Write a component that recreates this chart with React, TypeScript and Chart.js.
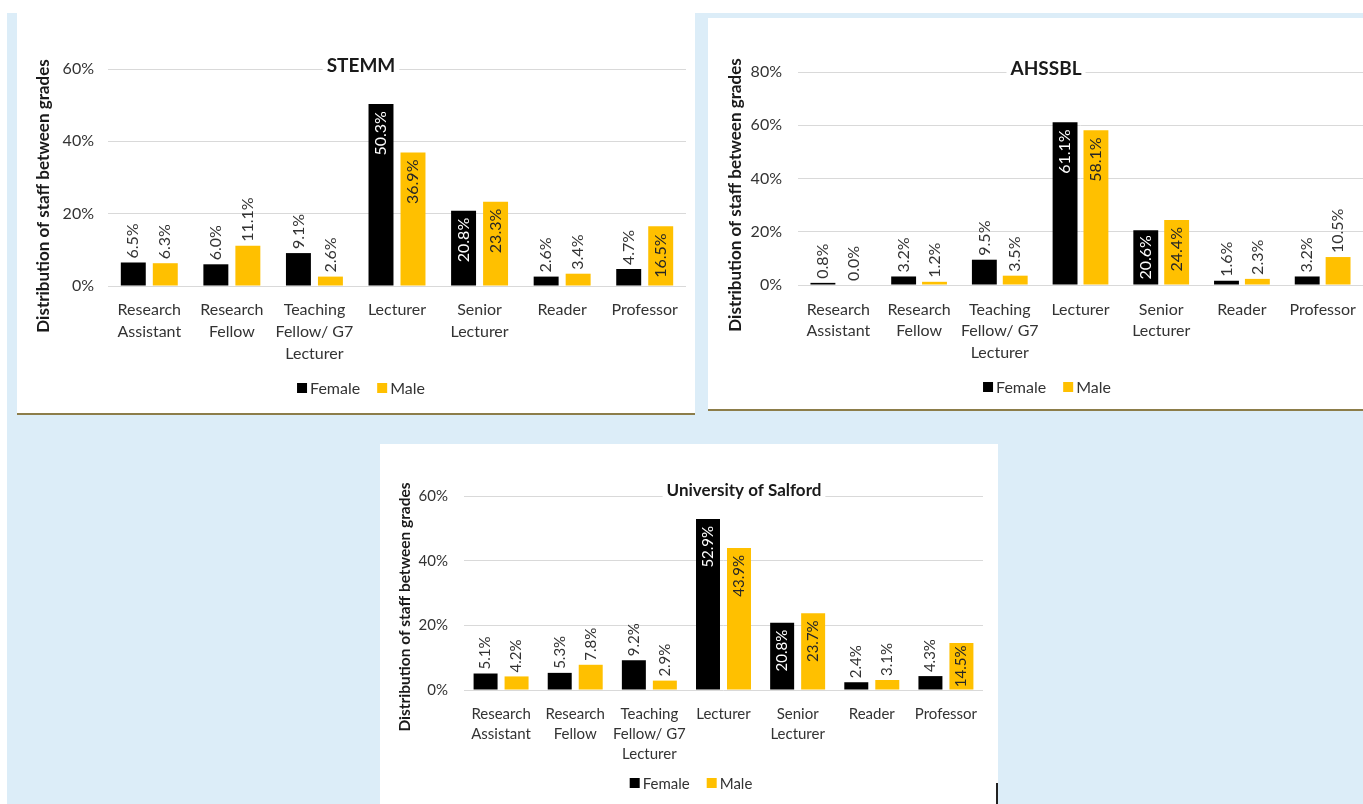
import React, { useEffect, useRef } from "react";
import { Chart, registerables } from "chart.js";

Chart.register(...registerables);

// ---- data ----
const grades: (string | string[])[] = [
  ["Research", "Assistant"],
  ["Research", "Fellow"],
  ["Teaching", "Fellow/ G7", "Lecturer"],
  "Lecturer",
  ["Senior", "Lecturer"],
  "Reader",
  "Professor",
];
const seriesNames = ["Female", "Male"];
const seriesColors = ["#000000", "#FFC000"];

const stemmFemale = [6.5, 6.0, 9.1, 50.3, 20.8, 2.6, 4.7];
const stemmMale = [6.3, 11.1, 2.6, 36.9, 23.3, 3.4, 16.5];

const ahssblFemale = [0.8, 3.2, 9.5, 61.1, 20.6, 1.6, 3.2];
const ahssblMale = [0.0, 1.2, 3.5, 58.1, 24.4, 2.3, 10.5];

const salfordFemale = [5.1, 5.3, 9.2, 52.9, 20.8, 2.4, 4.3];
const salfordMale = [4.2, 7.8, 2.9, 43.9, 23.7, 3.1, 14.5];

const stemmMax = 60;
const ahssblMax = 80;
const salfordMax = 60;
const tickStep = 20;

const yAxisTitle = "Distribution of staff between grades";

const FONT = "Lato, 'Open Sans', sans-serif";
const TEXT = "#333333";

type Spec = {
  title: string;
  female: number[];
  male: number[];
  max: number;
  box: { x: number; y: number; w: number; h: number };
  plot: { left: number; right: number; top: number; bottom: number };
  titleAt: [number, number];
  titleSize: number;
  yTitleAt: [number, number];
  yTitleSize: number;
  legendAt: [number, number];
  legendSize: number;
  tickSize: number;
  labelSize: number;
  lineHeight: number;
  valueSize: number;
  xPad: number;
  yPad: number;
  catPct: number;
  barPct: number;
  borderBottom: boolean;
};

const decorPlugin = {
  id: "panelDecor",
  afterDatasetsDraw(chart: any, _args: any, opts: any) {
    const ctx = chart.ctx as CanvasRenderingContext2D;
    chart.data.datasets.forEach((ds: any, di: number) => {
      const meta = chart.getDatasetMeta(di);
      meta.data.forEach((bar: any, i: number) => {
        const v = ds.data[i] as number;
        const text = v.toFixed(1) + "%";
        ctx.save();
        ctx.font = `${opts.valueSize}px ${FONT}`;
        const w = ctx.measureText(text).width;
        const h = bar.base - bar.y;
        const inside = h >= w + 4;
        const off = inside ? Math.max(0, Math.min(7, (h - w) / 2)) : 4;
        ctx.translate(bar.x, inside ? bar.y + off : bar.y - off);
        ctx.rotate(-Math.PI / 2);
        ctx.textAlign = inside ? "right" : "left";
        ctx.textBaseline = "middle";
        ctx.fillStyle = inside ? (di === 0 ? "#ffffff" : "#262626") : TEXT;
        ctx.fillText(text, 0, 0);
        ctx.restore();
      });
    });
  },
  afterDraw(chart: any, _args: any, opts: any) {
    const ctx = chart.ctx as CanvasRenderingContext2D;
    // chart title, sitting on the top gridline
    ctx.save();
    ctx.font = `bold ${opts.titleSize}px ${FONT}`;
    const tw = ctx.measureText(opts.title).width;
    ctx.fillStyle = "#ffffff";
    ctx.fillRect(opts.titleAt[0] - tw / 2 - 4, opts.titleAt[1] - opts.titleSize * 0.65, tw + 8, opts.titleSize * 1.3);
    ctx.fillStyle = "#1a1a1a";
    ctx.textAlign = "center";
    ctx.textBaseline = "middle";
    ctx.fillText(opts.title, opts.titleAt[0], opts.titleAt[1]);
    ctx.restore();

    // vertical axis title
    ctx.save();
    ctx.font = `bold ${opts.yTitleSize}px ${FONT}`;
    ctx.fillStyle = "#1a1a1a";
    ctx.translate(opts.yTitleAt[0], opts.yTitleAt[1]);
    ctx.rotate(-Math.PI / 2);
    ctx.textAlign = "center";
    ctx.textBaseline = "middle";
    ctx.fillText(yAxisTitle, 0, 0);
    ctx.restore();

    // legend
    ctx.save();
    ctx.font = `${opts.legendSize}px ${FONT}`;
    const box = 10;
    const gapBox = 3;
    const gapItem = 17;
    const items = chart.data.datasets.map((d: any) => ({
      label: d.label as string,
      color: d.backgroundColor as string,
      w: ctx.measureText(d.label).width,
    }));
    let total = 0;
    items.forEach((it: any, k: number) => {
      total += box + gapBox + it.w + (k < items.length - 1 ? gapItem : 0);
    });
    let x = opts.legendAt[0] - total / 2;
    const y = opts.legendAt[1];
    ctx.textBaseline = "middle";
    ctx.textAlign = "left";
    items.forEach((it: any) => {
      ctx.fillStyle = it.color;
      ctx.fillRect(x, y - box / 2, box, box);
      x += box + gapBox;
      ctx.fillStyle = TEXT;
      ctx.fillText(it.label, x, y + 1);
      x += it.w + gapItem;
    });
    ctx.restore();
  },
};

function PanelChart({ s }: { s: Spec }) {
  const ref = useRef<HTMLCanvasElement | null>(null);
  useEffect(() => {
    if (!ref.current) return;
    const { box, plot } = s;
    const chart = new Chart(ref.current, {
      type: "bar",
      data: {
        labels: grades,
        datasets: [
          {
            label: seriesNames[0],
            data: s.female,
            backgroundColor: seriesColors[0],
            borderWidth: 0,
            categoryPercentage: s.catPct,
            barPercentage: s.barPct,
          },
          {
            label: seriesNames[1],
            data: s.male,
            backgroundColor: seriesColors[1],
            borderWidth: 0,
            categoryPercentage: s.catPct,
            barPercentage: s.barPct,
          },
        ],
      },
      options: {
        responsive: false,
        maintainAspectRatio: false,
        animation: false,
        events: [],
        layout: {
          padding: {
            left: 0,
            right: box.x + box.w - plot.right,
            top: plot.top - box.y,
            bottom: 0,
          },
        },
        scales: {
          x: {
            grid: { display: false },
            border: { display: false },
            ticks: {
              autoSkip: false,
              maxRotation: 0,
              minRotation: 0,
              padding: s.xPad,
              color: TEXT,
              font: { family: FONT, size: s.labelSize, lineHeight: s.lineHeight / s.labelSize },
            },
            afterFit: (sc: any) => {
              sc.height = box.y + box.h - plot.bottom;
            },
          },
          y: {
            min: 0,
            max: s.max,
            ticks: {
              stepSize: tickStep,
              padding: s.yPad,
              color: TEXT,
              font: { family: FONT, size: s.tickSize },
              callback: (v: any) => `${v}%`,
            },
            grid: { color: "#d9d9d9", drawTicks: false, lineWidth: 1 },
            border: { display: false },
            afterFit: (sc: any) => {
              sc.width = plot.left - box.x;
            },
          },
        },
        plugins: {
          legend: { display: false },
          title: { display: false },
          tooltip: { enabled: false },
          panelDecor: {
            title: s.title,
            titleAt: [s.titleAt[0] - box.x, s.titleAt[1] - box.y],
            titleSize: s.titleSize,
            yTitleAt: [s.yTitleAt[0] - box.x, s.yTitleAt[1] - box.y],
            yTitleSize: s.yTitleSize,
            legendAt: [s.legendAt[0] - box.x, s.legendAt[1] - box.y],
            legendSize: s.legendSize,
            valueSize: s.valueSize,
          },
        } as any,
      },
      plugins: [decorPlugin],
    });
    return () => chart.destroy();
  }, [s]);

  return (
    <div
      style={{
        position: "absolute",
        left: s.box.x,
        top: s.box.y,
        width: s.box.w,
        height: s.box.h,
        background: "#ffffff",
      }}
    >
      <canvas ref={ref} width={s.box.w} height={s.box.h} style={{ display: "block" }} />
      {s.borderBottom && (
        <div
          style={{
            position: "absolute",
            left: 0,
            right: 0,
            bottom: -2,
            height: 2,
            background: "#8c7d4a",
          }}
        />
      )}
    </div>
  );
}

const panels: Spec[] = [
  {
    title: "STEMM",
    female: stemmFemale,
    male: stemmMale,
    max: stemmMax,
    box: { x: 17, y: 13, w: 678, h: 400 },
    plot: { left: 108, right: 686, top: 69, bottom: 286 },
    titleAt: [361, 66],
    titleSize: 19,
    yTitleAt: [44, 196],
    yTitleSize: 17,
    legendAt: [361, 388],
    legendSize: 16,
    tickSize: 16,
    labelSize: 16,
    lineHeight: 22,
    valueSize: 16,
    xPad: 5,
    yPad: 14,
    catPct: 0.775,
    barPct: 0.78,
    borderBottom: true,
  },
  {
    title: "AHSSBL",
    female: ahssblFemale,
    male: ahssblMale,
    max: ahssblMax,
    box: { x: 708, y: 18, w: 655, h: 391 },
    plot: { left: 798, right: 1363, top: 72, bottom: 285 },
    titleAt: [1046, 69],
    titleSize: 19,
    yTitleAt: [736, 195],
    yTitleSize: 17,
    legendAt: [1047, 387],
    legendSize: 16,
    tickSize: 16,
    labelSize: 16,
    lineHeight: 21.5,
    valueSize: 16,
    xPad: 6,
    yPad: 16,
    catPct: 0.765,
    barPct: 0.806,
    borderBottom: true,
  },
  {
    title: "University of Salford",
    female: salfordFemale,
    male: salfordMale,
    max: salfordMax,
    box: { x: 380, y: 444, w: 618, h: 360 },
    plot: { left: 464, right: 983, top: 496, bottom: 690 },
    titleAt: [744, 491],
    titleSize: 17,
    yTitleAt: [405, 607],
    yTitleSize: 15.5,
    legendAt: [691, 783],
    legendSize: 15,
    tickSize: 15,
    labelSize: 15,
    lineHeight: 20,
    valueSize: 15,
    xPad: 6,
    yPad: 16,
    catPct: 0.836,
    barPct: 0.774,
    borderBottom: false,
  },
];

export default function App() {
  useEffect(() => {
    document.body.style.margin = "0";
  }, []);
  return (
    <div
      style={{
        position: "absolute",
        left: 0,
        top: 0,
        width: 1363,
        height: 804,
        overflow: "hidden",
        background: "#dcedf8",
      }}
    >
      <div style={{ position: "absolute", left: 0, top: 0, width: 1363, height: 13, background: "#ffffff" }} />
      <div style={{ position: "absolute", left: 0, top: 0, width: 7, height: 804, background: "#ffffff" }} />
      {panels.map((p) => (
        <PanelChart key={p.title} s={p} />
      ))}
      <div style={{ position: "absolute", left: 996, top: 783, width: 2, height: 21, background: "#222222" }} />
    </div>
  );
}
